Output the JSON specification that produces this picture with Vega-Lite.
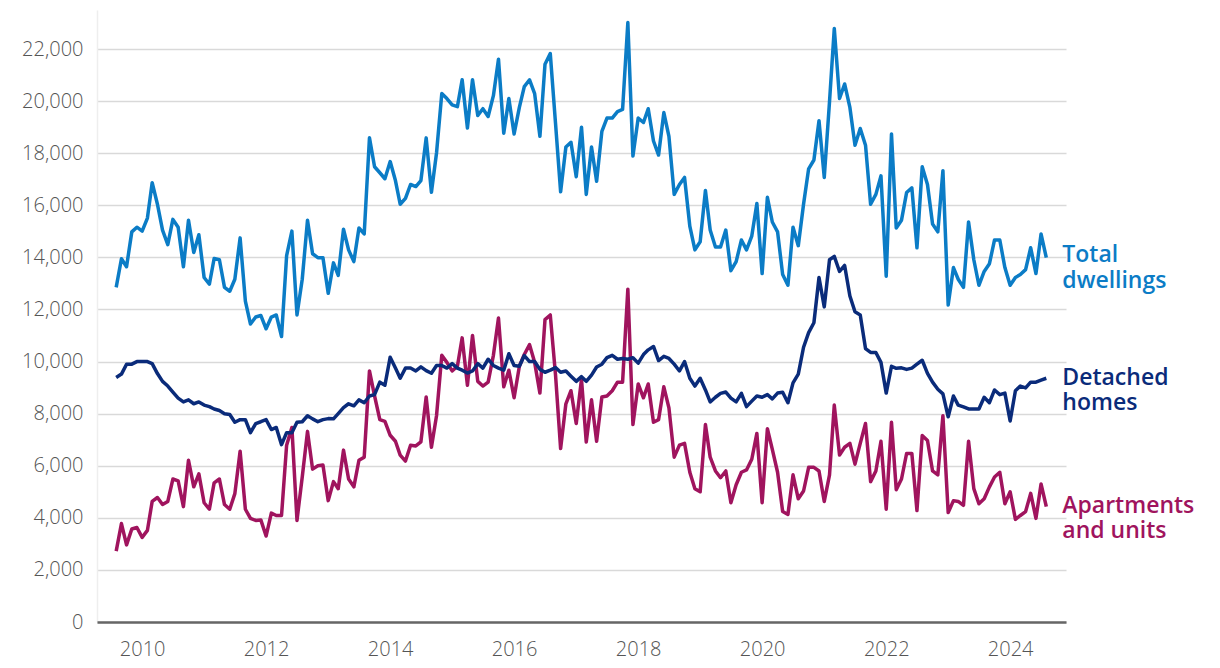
{
  "$schema": "https://vega.github.io/schema/vega-lite/v6.json",
  "width": 969,
  "height": 612,
  "autosize": {"type": "none"},
  "padding": {"left": 97, "top": 10, "right": 154, "bottom": 46},
  "background": "white",
  "config": {"view": {"stroke": null}, "font": "Open Sans"},
  "datasets": {
    "m": [
      {"d":"2009-08-01","t":12850,"h":9390,"a":2720},
      {"d":"2009-09-01","t":13950,"h":9520,"a":3780},
      {"d":"2009-10-01","t":13640,"h":9900,"a":2960},
      {"d":"2009-11-01","t":14980,"h":9900,"a":3570},
      {"d":"2009-12-01","t":15160,"h":10000,"a":3630},
      {"d":"2010-01-01","t":15010,"h":10000,"a":3250},
      {"d":"2010-02-01","t":15510,"h":10000,"a":3520},
      {"d":"2010-03-01","t":16870,"h":9920,"a":4630},
      {"d":"2010-04-01","t":16040,"h":9540,"a":4780},
      {"d":"2010-05-01","t":15050,"h":9240,"a":4510},
      {"d":"2010-06-01","t":14490,"h":9060,"a":4630},
      {"d":"2010-07-01","t":15460,"h":8830,"a":5490},
      {"d":"2010-08-01","t":15160,"h":8600,"a":5420},
      {"d":"2010-09-01","t":13640,"h":8450,"a":4430},
      {"d":"2010-10-01","t":15430,"h":8530,"a":6210},
      {"d":"2010-11-01","t":14190,"h":8380,"a":5190},
      {"d":"2010-12-01","t":14870,"h":8450,"a":5690},
      {"d":"2011-01-01","t":13230,"h":8330,"a":4580},
      {"d":"2011-02-01","t":12970,"h":8270,"a":4330},
      {"d":"2011-03-01","t":13960,"h":8180,"a":5340},
      {"d":"2011-04-01","t":13910,"h":8120,"a":5490},
      {"d":"2011-05-01","t":12850,"h":8000,"a":4510},
      {"d":"2011-06-01","t":12700,"h":7970,"a":4330},
      {"d":"2011-07-01","t":13160,"h":7670,"a":4930},
      {"d":"2011-08-01","t":14750,"h":7770,"a":6560},
      {"d":"2011-09-01","t":12320,"h":7770,"a":4330},
      {"d":"2011-10-01","t":11440,"h":7270,"a":3980},
      {"d":"2011-11-01","t":11710,"h":7620,"a":3900},
      {"d":"2011-12-01","t":11770,"h":7690,"a":3920},
      {"d":"2012-01-01","t":11260,"h":7770,"a":3300},
      {"d":"2012-02-01","t":11710,"h":7390,"a":4180},
      {"d":"2012-03-01","t":11790,"h":7470,"a":4090},
      {"d":"2012-04-01","t":10960,"h":6810,"a":4090},
      {"d":"2012-05-01","t":14070,"h":7270,"a":6790},
      {"d":"2012-06-01","t":15010,"h":7270,"a":7470},
      {"d":"2012-07-01","t":11790,"h":7670,"a":3900},
      {"d":"2012-08-01","t":13160,"h":7690,"a":5570},
      {"d":"2012-09-01","t":15430,"h":7920,"a":7320},
      {"d":"2012-10-01","t":14140,"h":7800,"a":5870},
      {"d":"2012-11-01","t":13990,"h":7690,"a":6000},
      {"d":"2012-12-01","t":13990,"h":7770,"a":6030},
      {"d":"2013-01-01","t":12620,"h":7810,"a":4660},
      {"d":"2013-02-01","t":13790,"h":7800,"a":5390},
      {"d":"2013-03-01","t":13310,"h":8000,"a":5120},
      {"d":"2013-04-01","t":15080,"h":8230,"a":6600},
      {"d":"2013-05-01","t":14290,"h":8380,"a":5490},
      {"d":"2013-06-01","t":13840,"h":8300,"a":5190},
      {"d":"2013-07-01","t":15130,"h":8530,"a":6210},
      {"d":"2013-08-01","t":14900,"h":8420,"a":6330},
      {"d":"2013-09-01","t":18590,"h":8680,"a":9640},
      {"d":"2013-10-01","t":17480,"h":8730,"a":8680},
      {"d":"2013-11-01","t":17250,"h":9210,"a":7770},
      {"d":"2013-12-01","t":17020,"h":9090,"a":7700},
      {"d":"2014-01-01","t":17680,"h":10170,"a":7170},
      {"d":"2014-02-01","t":16950,"h":9750,"a":6940},
      {"d":"2014-03-01","t":16040,"h":9360,"a":6410},
      {"d":"2014-04-01","t":16270,"h":9750,"a":6180},
      {"d":"2014-05-01","t":16800,"h":9750,"a":6790},
      {"d":"2014-06-01","t":16720,"h":9640,"a":6760},
      {"d":"2014-07-01","t":16950,"h":9800,"a":6920},
      {"d":"2014-08-01","t":18590,"h":9650,"a":8640},
      {"d":"2014-09-01","t":16500,"h":9550,"a":6710},
      {"d":"2014-10-01","t":18010,"h":9850,"a":7920},
      {"d":"2014-11-01","t":20290,"h":9850,"a":10240},
      {"d":"2014-12-01","t":20100,"h":9750,"a":9970},
      {"d":"2015-01-01","t":19860,"h":9920,"a":9640},
      {"d":"2015-02-01","t":19790,"h":9750,"a":9820},
      {"d":"2015-03-01","t":20820,"h":9670,"a":10910},
      {"d":"2015-04-01","t":18970,"h":9560,"a":9090},
      {"d":"2015-05-01","t":20820,"h":9640,"a":11000},
      {"d":"2015-06-01","t":19450,"h":9920,"a":9240},
      {"d":"2015-07-01","t":19710,"h":9750,"a":9060},
      {"d":"2015-08-01","t":19410,"h":10090,"a":9210},
      {"d":"2015-09-01","t":20210,"h":9850,"a":10240},
      {"d":"2015-10-01","t":21610,"h":9750,"a":11670},
      {"d":"2015-11-01","t":18770,"h":9670,"a":9030},
      {"d":"2015-12-01","t":20100,"h":10300,"a":9670},
      {"d":"2016-01-01","t":18740,"h":9850,"a":8610},
      {"d":"2016-02-01","t":19760,"h":9820,"a":9820},
      {"d":"2016-03-01","t":20560,"h":10230,"a":10270},
      {"d":"2016-04-01","t":20820,"h":10000,"a":10650},
      {"d":"2016-05-01","t":20290,"h":10000,"a":9970},
      {"d":"2016-06-01","t":18650,"h":9700,"a":8790},
      {"d":"2016-07-01","t":21420,"h":9590,"a":11610},
      {"d":"2016-08-01","t":21830,"h":9670,"a":11790},
      {"d":"2016-09-01","t":19150,"h":9770,"a":9490},
      {"d":"2016-10-01","t":16520,"h":9590,"a":6660},
      {"d":"2016-11-01","t":18240,"h":9640,"a":8380},
      {"d":"2016-12-01","t":18420,"h":9440,"a":8880},
      {"d":"2017-01-01","t":17100,"h":9240,"a":7620},
      {"d":"2017-02-01","t":19000,"h":9420,"a":9320},
      {"d":"2017-03-01","t":16420,"h":9240,"a":6910},
      {"d":"2017-04-01","t":18240,"h":9480,"a":8530},
      {"d":"2017-05-01","t":16920,"h":9790,"a":6940},
      {"d":"2017-06-01","t":18840,"h":9900,"a":8640},
      {"d":"2017-07-01","t":19350,"h":10150,"a":8680},
      {"d":"2017-08-01","t":19350,"h":10240,"a":8880},
      {"d":"2017-09-01","t":19600,"h":10090,"a":9210},
      {"d":"2017-10-01","t":19680,"h":10120,"a":9210},
      {"d":"2017-11-01","t":23020,"h":10090,"a":12780},
      {"d":"2017-12-01","t":17890,"h":10150,"a":7580},
      {"d":"2018-01-01","t":19350,"h":9940,"a":9140},
      {"d":"2018-02-01","t":19180,"h":10270,"a":8610},
      {"d":"2018-03-01","t":19710,"h":10450,"a":9140},
      {"d":"2018-04-01","t":18470,"h":10580,"a":7670},
      {"d":"2018-05-01","t":17930,"h":10040,"a":7770},
      {"d":"2018-06-01","t":19560,"h":10200,"a":9030},
      {"d":"2018-07-01","t":18650,"h":10120,"a":8220},
      {"d":"2018-08-01","t":16420,"h":9900,"a":6330},
      {"d":"2018-09-01","t":16800,"h":9640,"a":6790},
      {"d":"2018-10-01","t":17070,"h":10000,"a":6860},
      {"d":"2018-11-01","t":15200,"h":9360,"a":5750},
      {"d":"2018-12-01","t":14290,"h":9060,"a":5120},
      {"d":"2019-01-01","t":14600,"h":9360,"a":5000},
      {"d":"2019-02-01","t":16570,"h":8910,"a":7580},
      {"d":"2019-03-01","t":15050,"h":8450,"a":6330},
      {"d":"2019-04-01","t":14400,"h":8630,"a":5800},
      {"d":"2019-05-01","t":14400,"h":8780,"a":5540},
      {"d":"2019-06-01","t":15050,"h":8830,"a":5800},
      {"d":"2019-07-01","t":13490,"h":8600,"a":4580},
      {"d":"2019-08-01","t":13840,"h":8450,"a":5270},
      {"d":"2019-09-01","t":14670,"h":8780,"a":5750},
      {"d":"2019-10-01","t":14290,"h":8270,"a":5840},
      {"d":"2019-11-01","t":14820,"h":8480,"a":6250},
      {"d":"2019-12-01","t":16070,"h":8680,"a":7240},
      {"d":"2020-01-01","t":13380,"h":8630,"a":4580},
      {"d":"2020-02-01","t":16310,"h":8730,"a":7420},
      {"d":"2020-03-01","t":15360,"h":8570,"a":6630},
      {"d":"2020-04-01","t":14980,"h":8790,"a":5750},
      {"d":"2020-05-01","t":13340,"h":8820,"a":4240},
      {"d":"2020-06-01","t":12930,"h":8420,"a":4130},
      {"d":"2020-07-01","t":15160,"h":9180,"a":5650},
      {"d":"2020-08-01","t":14450,"h":9520,"a":4730},
      {"d":"2020-09-01","t":16040,"h":10550,"a":5030},
      {"d":"2020-10-01","t":17400,"h":11110,"a":5940},
      {"d":"2020-11-01","t":17740,"h":11490,"a":5940},
      {"d":"2020-12-01","t":19250,"h":13230,"a":5800},
      {"d":"2021-01-01","t":17070,"h":12100,"a":4630},
      {"d":"2021-02-01","t":19980,"h":13910,"a":5650},
      {"d":"2021-03-01","t":22790,"h":14040,"a":8330},
      {"d":"2021-04-01","t":20100,"h":13460,"a":6410},
      {"d":"2021-05-01","t":20660,"h":13690,"a":6710},
      {"d":"2021-06-01","t":19760,"h":12520,"a":6860},
      {"d":"2021-07-01","t":18310,"h":11910,"a":6060},
      {"d":"2021-08-01","t":18950,"h":11790,"a":6860},
      {"d":"2021-09-01","t":18310,"h":10500,"a":7620},
      {"d":"2021-10-01","t":16040,"h":10350,"a":5390},
      {"d":"2021-11-01","t":16420,"h":10350,"a":5800},
      {"d":"2021-12-01","t":17130,"h":9970,"a":6940},
      {"d":"2022-01-01","t":13280,"h":8790,"a":4330},
      {"d":"2022-02-01","t":18740,"h":9820,"a":7670},
      {"d":"2022-03-01","t":15130,"h":9740,"a":5080},
      {"d":"2022-04-01","t":15430,"h":9760,"a":5490},
      {"d":"2022-05-01","t":16490,"h":9700,"a":6470},
      {"d":"2022-06-01","t":16670,"h":9750,"a":6470},
      {"d":"2022-07-01","t":14370,"h":9900,"a":4280},
      {"d":"2022-08-01","t":17480,"h":10050,"a":7160},
      {"d":"2022-09-01","t":16800,"h":9550,"a":6970},
      {"d":"2022-10-01","t":15280,"h":9210,"a":5800},
      {"d":"2022-11-01","t":14980,"h":8940,"a":5650},
      {"d":"2022-12-01","t":17330,"h":8760,"a":7920},
      {"d":"2023-01-01","t":12170,"h":7880,"a":4200},
      {"d":"2023-02-01","t":13610,"h":8680,"a":4660},
      {"d":"2023-03-01","t":13160,"h":8330,"a":4630},
      {"d":"2023-04-01","t":12850,"h":8260,"a":4480},
      {"d":"2023-05-01","t":15360,"h":8180,"a":6940},
      {"d":"2023-06-01","t":13910,"h":8180,"a":5120},
      {"d":"2023-07-01","t":12930,"h":8180,"a":4540},
      {"d":"2023-08-01","t":13460,"h":8630,"a":4730},
      {"d":"2023-09-01","t":13760,"h":8420,"a":5190},
      {"d":"2023-10-01","t":14670,"h":8910,"a":5570},
      {"d":"2023-11-01","t":14670,"h":8730,"a":5750},
      {"d":"2023-12-01","t":13610,"h":8790,"a":4540},
      {"d":"2024-01-01","t":12930,"h":7720,"a":5000},
      {"d":"2024-02-01","t":13230,"h":8880,"a":3940},
      {"d":"2024-03-01","t":13340,"h":9060,"a":4090},
      {"d":"2024-04-01","t":13530,"h":8990,"a":4240},
      {"d":"2024-05-01","t":14370,"h":9210,"a":4940},
      {"d":"2024-06-01","t":13380,"h":9210,"a":3980},
      {"d":"2024-07-01","t":14900,"h":9290,"a":5300},
      {"d":"2024-08-01","t":13990,"h":9360,"a":4430}
    ],
    "lab": [
      {"d":"2024-08-01","s":"t","v":14090,"name":"Total"},
      {"d":"2024-08-01","s":"t","v":13090,"name":"dwellings"},
      {"d":"2024-08-01","s":"h","v":9370,"name":"Detached"},
      {"d":"2024-08-01","s":"h","v":8410,"name":"homes"},
      {"d":"2024-08-01","s":"a","v":4450,"name":"Apartments"},
      {"d":"2024-08-01","s":"a","v":3490,"name":"and units"}
    ]
  },
  "layer": [
    {
      "data": {"name": "m"},
      "transform": [{"fold": ["t", "a", "h"], "as": ["s", "v"]}],
      "mark": {"type": "line", "strokeWidth": 3.5, "strokeJoin": "round", "clip": false},
      "encoding": {
        "x": {
          "field": "d", "type": "temporal",
          "scale": {"domain": [{"year": 2009, "month": 4, "date": 10}, {"year": 2024, "month": 11, "date": 25}]},
          "axis": {
            "values": [{"year": 2010}, {"year": 2012}, {"year": 2014}, {"year": 2016}, {"year": 2018}, {"year": 2020}, {"year": 2022}, {"year": 2024}],
            "format": "%Y", "title": null, "grid": false, "tickSize": 0,
            "labelPadding": 17, "labelFontSize": 20, "labelFontWeight": 300, "labelColor": "#555555",
            "domainColor": "#666666", "domainWidth": 2.5, "zindex": 1
          }
        },
        "y": {
          "field": "v", "type": "quantitative",
          "scale": {"domain": [0, 23500], "nice": false},
          "axis": {
            "values": [0, 2000, 4000, 6000, 8000, 10000, 12000, 14000, 16000, 18000, 20000, 22000],
            "format": ",.0f", "title": null, "grid": true, "gridColor": "#d9d9d9", "gridWidth": 1.5,
            "tickSize": 0, "labelPadding": 14, "labelFontSize": 20, "labelFontWeight": 300, "labelColor": "#555555",
            "domainColor": "#eeeeee", "domainWidth": 1.5
          }
        },
        "color": {
          "field": "s", "type": "nominal",
          "scale": {"domain": ["t", "h", "a"], "range": ["#0B7CC6", "#0A2B7A", "#A0145E"]},
          "legend": null
        }
      }
    },
    {
      "data": {"name": "lab"},
      "mark": {"type": "text", "align": "left", "baseline": "middle", "dx": 16, "fontSize": 23, "fontWeight": 600},
      "encoding": {
        "x": {"field": "d", "type": "temporal"},
        "y": {"field": "v", "type": "quantitative"},
        "text": {"field": "name"},
        "color": {"field": "s", "type": "nominal", "legend": null}
      }
    }
  ]
}
